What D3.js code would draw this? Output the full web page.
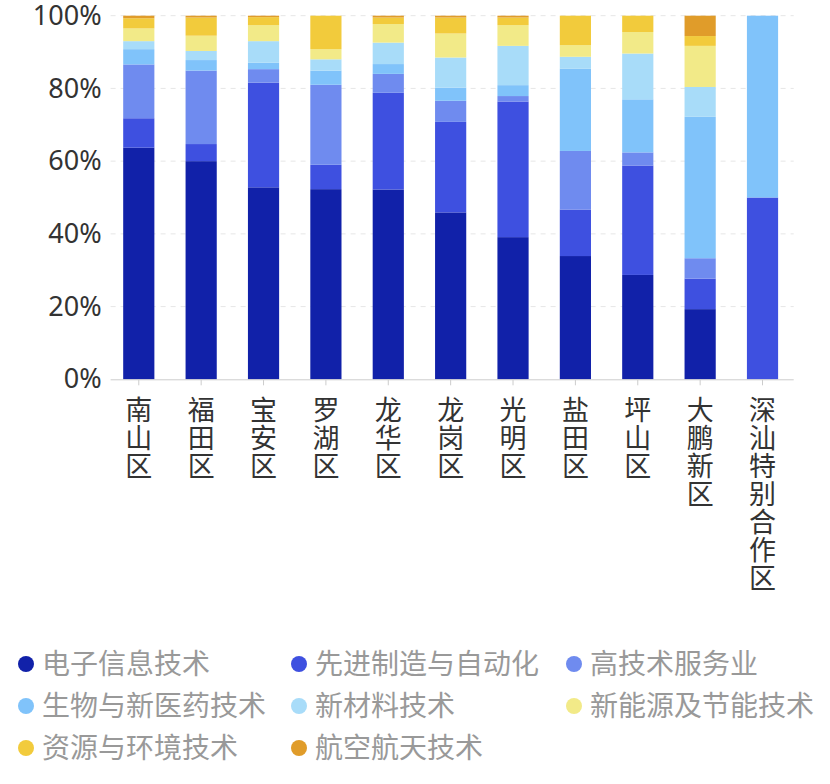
<!DOCTYPE html>
<html>
<head>
<meta charset="utf-8">
<script src="https://cdn.jsdelivr.net/npm/d3@7"></script>
<style>
  html, body { margin: 0; padding: 0; background: #fff; }
  svg { display: block; font-family: "Noto Sans", "Noto Sans CJK SC", sans-serif; }
</style>
</head>
<body>
<svg id="chart" width="830" height="784"></svg>
<script>
const categories = ["南山区","福田区","宝安区","罗湖区","龙华区","龙岗区","光明区","盐田区","坪山区","大鹏新区","深汕特别合作区"];
const seriesNames = ["电子信息技术","先进制造与自动化","高技术服务业","生物与新医药技术","新材料技术","新能源及节能技术","资源与环境技术","航空航天技术"];
const seriesColors = ["#1121a9","#3e50e0","#6f8bef","#80c3fa","#a8dcf9","#f2ea88","#f2cb3c","#e09c2a"];

// shares (%) per district, in category order
const dianzi   = [63.7, 60.0, 52.8, 52.3, 52.2, 45.9, 39.1, 33.9, 28.7, 19.3, 0];
const xianjin  = [8.1, 4.7, 28.8, 6.7, 26.6, 24.9, 37.3, 12.8, 30.1, 8.4, 50];
const gaojishu = [14.8, 20.2, 3.7, 22.0, 5.2, 5.8, 1.5, 16.1, 3.6, 5.6, 0];
const shengwu  = [4.2, 2.9, 1.8, 3.9, 2.7, 3.6, 3.0, 22.6, 14.6, 38.9, 50];
const xincailiao = [2.2, 2.5, 5.9, 3.1, 5.9, 8.3, 10.8, 3.3, 12.6, 8.2, 0];
const xinnengyuan = [3.5, 4.2, 4.4, 2.8, 5.1, 6.6, 5.7, 3.2, 5.9, 11.3, 0];
const ziyuan   = [2.8, 5.0, 2.2, 9.2, 1.8, 4.4, 2.1, 8.1, 4.5, 2.7, 0];
const hangkong = [0.7, 0.5, 0.4, 0, 0.5, 0.5, 0.5, 0, 0, 5.6, 0];

const yTicks = [0, 0.2, 0.4, 0.6, 0.8, 1.0];

const seriesValues = [dianzi, xianjin, gaojishu, shengwu, xincailiao, xinnengyuan, ziyuan, hangkong];
const table = categories.map((c, i) => {
  const row = { cat: c };
  seriesNames.forEach((s, j) => row[s] = seriesValues[j][i]);
  return row;
});

const svg = d3.select("#chart");
const pLeft = 107.6, pRight = 793.7, pTop = 15.7, pBottom = 379.3;

const x = d3.scaleBand().domain(categories).range([pLeft, pRight]).paddingInner(0.5).paddingOuter(0.25);
const y = d3.scaleLinear().domain([0, 1]).range([pBottom, pTop]);

const stack = d3.stack().keys(seriesNames).offset(d3.stackOffsetExpand);
const stacked = stack(table);

// grid lines
svg.append("g").selectAll("line").data(yTicks.filter(t => t > 0)).join("line")
  .attr("x1", pLeft + 3).attr("x2", pRight)
  .attr("y1", d => y(d)).attr("y2", d => y(d))
  .attr("stroke", "#e6e6e6").attr("stroke-width", 1).attr("stroke-dasharray", "5,5");

// bars
const color = d3.scaleOrdinal().domain(seriesNames).range(seriesColors);
svg.append("g").selectAll("g").data(stacked).join("g")
  .attr("fill", d => color(d.key))
  .selectAll("rect").data(d => d).join("rect")
  .attr("x", d => x(d.data.cat))
  .attr("width", x.bandwidth())
  .attr("y", d => y(d[1]))
  .attr("height", d => Math.max(0, y(d[0]) - y(d[1])));

// y axis labels
const yAxis = d3.axisLeft(y).tickValues(yTicks).tickFormat(d => Math.round(d * 100) + "%").tickSize(0).tickPadding(4);
const gy = svg.append("g").attr("transform", `translate(${pLeft - 2},0)`).call(yAxis);
gy.select(".domain").remove();
gy.selectAll("text").attr("font-size", 27).attr("fill", "#333").attr("font-family", "'Noto Sans', sans-serif");

// x axis
const xAxis = d3.axisBottom(x).tickSize(6).tickFormat("");
const gx = svg.append("g").attr("transform", `translate(0,${pBottom})`).call(xAxis);
gx.select(".domain").attr("stroke", "#cccccc").attr("d", `M${pLeft + 3},0.5H${pRight}`);
gx.selectAll(".tick line").attr("stroke", "#cccccc");

// vertical x labels
svg.append("g").selectAll("text").data(categories).join("text")
  .attr("x", c => x(c) + x.bandwidth() / 2)
  .attr("y", 396)
  .attr("font-size", 27).attr("fill", "#333")
  .attr("font-family", "'Noto Sans CJK SC', sans-serif")
  .style("writing-mode", "vertical-rl")
  .style("text-orientation", "upright")
  .style("letter-spacing", "1px")
  .text(c => c);

// legend
const colX = [26, 299, 574];
const leg = svg.append("g").selectAll("g").data(seriesNames).join("g")
  .attr("transform", (d, i) => `translate(${colX[i % 3]},${664 + Math.floor(i / 3) * 42})`);
leg.append("circle").attr("r", 8).attr("fill", d => color(d));
leg.append("text").attr("x", 16).attr("dy", "0.36em").attr("font-size", 28)
  .attr("fill", "#999").attr("font-family", "'Noto Sans CJK SC', sans-serif").text(d => d);
</script>
</body>
</html>
